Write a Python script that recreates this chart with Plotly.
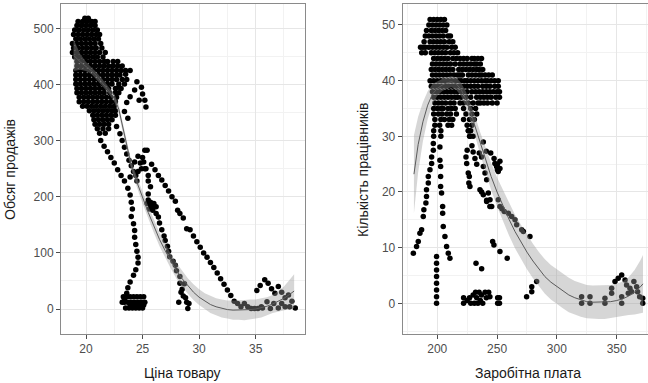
import plotly.graph_objects as go

# ---------------- Left panel: price vs sales ----------------
# dense cluster rows: (sales, [prices])
left_blob_rows = [
    (518, [19.9, 20.2]),
    (512, [19.3, 19.7, 20.1, 20.5, 20.8]),
    (505, [19.2, 19.6, 20.0, 20.4, 20.8]),
    (497, [19.0, 19.4, 19.8, 20.2, 20.6, 21.0]),
    (489, [18.9, 19.3, 19.7, 20.1, 20.5, 20.9, 21.2]),
    (481, [19.1, 19.5, 19.9, 20.3, 20.7, 21.1]),
    (473, [18.8, 19.2, 19.6, 20.0, 20.4, 20.8, 21.3]),
    (465, [18.9, 19.3, 19.7, 20.1, 20.5, 20.9, 21.4]),
    (457, [18.8, 19.2, 19.6, 20.0, 20.4, 20.8, 21.2, 21.7]),
    (449, [19.0, 19.4, 19.8, 20.2, 20.6, 21.0, 21.5]),
    (441, [19.2, 19.6, 20.0, 20.4, 20.8, 21.2, 21.6, 21.9, 22.4, 22.8]),
    (433, [19.2, 19.6, 20.0, 20.4, 20.8, 21.2, 21.6, 22.0, 22.4, 22.8, 23.2]),
    (425, [19.1, 19.5, 19.9, 20.3, 20.7, 21.1, 21.5, 21.9, 22.3, 22.7, 23.1, 23.5]),
    (417, [19.1, 19.5, 19.9, 20.3, 20.7, 21.1, 21.5, 21.9, 22.3, 22.7, 23.0]),
    (409, [19.1, 19.5, 19.9, 20.3, 20.7, 21.1, 21.5, 21.9, 22.3, 22.7, 23.2, 23.6]),
    (401, [19.1, 19.5, 19.9, 20.3, 20.7, 21.1, 21.5, 21.9, 22.3, 22.9, 23.4]),
    (393, [19.2, 19.6, 20.0, 20.4, 20.8, 21.2, 21.6, 22.0, 22.6, 23.1]),
    (385, [19.2, 19.6, 20.0, 20.4, 20.8, 21.2, 21.6, 22.1, 22.6, 22.9]),
    (377, [19.4, 19.8, 20.2, 20.6, 21.0, 21.4, 21.8, 22.2, 22.7]),
    (369, [19.4, 19.8, 20.2, 20.6, 21.0, 21.4, 21.8, 22.2, 22.6]),
    (361, [19.7, 20.1, 20.5, 20.9, 21.3, 21.7, 22.1, 22.5]),
    (353, [20.3, 20.7, 21.1, 21.5, 21.9, 22.3, 22.6]),
    (345, [20.6, 21.0, 21.4, 21.8, 22.2, 22.6]),
    (337, [20.7, 21.1, 21.5, 21.9, 22.3]),
    (329, [20.8, 21.2, 21.6, 22.0]),
    (321, [21.0, 21.5, 22.0]),
    (313, [21.2, 21.7]),
]

left_other_price = [
    # isolated right of cluster
    23.9, 24.3, 24.5, 24.9, 25.0, 25.2, 25.3, 24.7, 23.6, 23.4, 23.7, 22.9, 23.5, 23.9,
    # left descending chain
    21.3, 21.6, 21.9, 22.2, 22.5, 22.8, 23.1, 23.4, 23.7, 23.9, 24.0, 24.1, 24.0, 24.2,
    24.3, 24.3, 24.4, 24.5, 24.6, 24.6, 24.4, 24.2, 23.9, 23.7, 23.6, 23.4,
    # bottom cluster
    23.2, 23.3, 23.6, 23.9, 24.2, 24.5, 24.8, 25.1, 23.4, 23.7, 24.0, 24.3, 24.6, 24.9,
    25.2, 23.5, 23.8, 24.1, 24.4, 24.7, 25.0, 23.9, 24.2, 24.5, 24.8, 25.1,
    # middle cluster
    22.7, 23.0, 23.2, 23.4, 23.6, 23.8, 24.0, 24.2, 24.4, 24.6, 24.9, 25.2, 24.8, 25.0,
    25.2, 25.4, 24.6, 24.3, 23.9, 24.5,
    # middle chain down to 29
    25.1, 25.3, 25.5, 25.5, 25.7, 25.5, 25.5, 25.7, 25.9, 26.2, 26.4, 26.5, 26.7, 26.9,
    27.0, 27.2, 27.3, 27.4, 27.7, 27.9, 28.0, 28.3, 28.3, 28.5, 28.6, 28.9, 29.0, 28.4,
    28.2, 28.7, 28.8, 29.1,
    # small cluster near 25.7 / 180
    25.4, 25.7, 26.0, 25.6, 25.9, 26.2,
    # long chain to the right
    25.8, 26.1, 26.4, 26.7, 27.0, 27.3, 27.6, 27.9, 28.1, 28.3, 28.6, 28.9, 29.2, 29.5,
    29.8, 30.1, 30.4, 30.7, 31.0, 31.3, 31.6, 31.9, 32.2, 32.5, 32.8, 33.1, 33.4, 33.7,
    34.0, 34.3, 34.6, 34.9, 35.2, 35.5,
    # bump on the right
    35.1, 35.4, 35.8, 36.1, 36.4, 36.7, 37.0, 37.3, 37.6, 37.9, 38.2, 38.5, 37.6, 37.3,
    37.0, 36.6, 36.3, 36.0, 35.6, 38.0,
]
left_other_sales = [
    378, 390, 405, 395, 383, 372, 360, 372, 368, 352, 340, 395, 418, 425,
    300, 290, 280, 270, 260, 248, 238, 228, 215, 203, 190, 178, 165, 152,
    140, 128, 115, 103, 92, 82, 70, 60, 48, 38, 28, 18,
    12, 22, 22, 22, 22, 22, 22, 22, 12, 12, 12, 12, 12, 12,
    12, 2, 2, 2, 2, 2, 2, 7, 7, 7, 7, 7,
    325, 312, 300, 288, 276, 265, 255, 245, 238, 245, 250, 250, 260, 270,
    283, 283, 272, 262, 235, 228,
    262, 250, 238, 228, 218, 205, 194, 185, 176, 170, 164, 153, 141, 130,
    122, 112, 103, 93, 85, 78, 68, 58, 46, 35, 23, 12, 1, 30,
    12, 45, 20, 10,
    188, 190, 188, 178, 180, 182,
    258, 248, 238, 230, 220, 210, 200, 192, 176, 170, 162, 143, 141, 130,
    120, 110, 100, 92, 83, 74, 64, 54, 44, 34, 24, 14, 10, 4,
    10, 4, 1, 1, 1, 4,
    33, 42, 52, 46, 36, 28, 40, 30, 20, 25, 14, 2, 4, 10,
    2, 10, 1, 13, 2, 4,
]

left_fit_x = [18.9, 19.5, 20.0, 20.5, 21.0, 21.5, 22.0, 22.5, 22.9, 23.2, 23.6, 24.0, 24.5,
              25.0, 25.5, 26.0, 26.5, 27.0, 27.5, 28.0, 28.5, 29.0, 29.5, 30.0, 30.5, 31.0,
              31.5, 32.0, 32.5, 33.0, 33.5, 34.0, 34.5, 35.0, 35.5, 36.0, 36.5, 37.0, 37.5,
              38.0, 38.4]
left_fit_y = [452, 440, 432, 424, 414, 402, 390, 376, 356, 328, 290, 256, 226,
              198, 172, 148, 124, 104, 85, 68, 54, 41, 30, 21, 14, 8,
              4, 1, -1, -2, -2, -2, -1, 0, 2, 5, 9, 14, 19,
              26, 32]
left_fit_se = [28, 14, 8, 6, 6, 6, 6, 7, 8, 8, 8, 8, 9,
               10, 11, 12, 12, 13, 13, 14, 14, 14, 14, 14, 14, 15,
               15, 16, 16, 17, 17, 18, 18, 17, 17, 16, 16, 18, 21,
               26, 30]

# ---------------- Right panel: wage vs workers ----------------
right_blob_rows = [
    (51, [194, 197, 200, 203, 206]),
    (50, [193, 196, 199, 202, 205, 208]),
    (49, [191, 195, 198, 201, 204, 207]),
    (48, [190, 193, 196, 199, 202, 205, 209, 211]),
    (47, [189, 194, 197, 200, 203, 206, 210, 213]),
    (46, [186, 188, 190, 193, 196, 199, 202, 205, 208, 212, 215]),
    (45, [187, 190, 195, 198, 201, 204, 207, 211, 214, 217]),
    (44, [197, 200, 203, 206, 209, 213, 216, 219, 222, 225, 229, 231, 234, 237]),
    (43, [196, 199, 202, 205, 208, 211, 215, 219, 222, 225, 228, 231, 233, 236]),
    (42, [195, 198, 201, 204, 207, 210, 213, 218, 221, 224, 227, 230, 233, 235, 238]),
    (41, [196, 199, 202, 205, 208, 211, 214, 217, 219, 221, 226, 229, 232, 235, 237, 240,
          243, 246]),
    (40, [194, 197, 200, 203, 206, 209, 212, 215, 218, 220, 223, 225, 228, 231, 234, 237,
          240, 242, 245, 248, 251]),
    (39, [195, 198, 201, 204, 207, 210, 213, 216, 219, 222, 225, 228, 231, 234, 238, 241,
          244, 248, 251]),
    (38, [196, 199, 202, 205, 208, 211, 214, 217, 220, 222, 225, 229, 232, 235, 238, 241,
          244, 247, 250, 252]),
    (37, [197, 200, 203, 206, 209, 212, 215, 217, 220, 224, 228, 233, 236, 239, 242, 245,
          249, 252]),
    (36, [198, 201, 204, 207, 211, 214, 219, 222, 226, 230, 234, 236, 239, 242, 246, 250]),
    (35, [197, 200, 203, 205, 209, 212, 215, 222, 228, 232]),
    (34, [197, 201, 204, 208, 211, 216, 224, 229, 233]),
    (33, [198, 203, 206, 210, 213, 222, 227, 231]),
    (32, [198, 202, 209, 212, 225, 229]),
    (31, [197, 203, 226, 228]),
    (30, [197, 203, 227, 230]),
]

right_other_wage = [
    # far-left chain
    180.0, 182.7, 184.1, 185.5, 186.9, 188.3, 188.8, 190.5, 191.0, 191.0, 192.5, 192.5,
    193.9, 195.3, 195.3, 196.7, 196.7,
    # bottom column at 200
    199.4, 199.4, 199.4, 199.4, 199.4, 199.4, 199.4, 199.4,
    # column 202-210
    202.2, 202.2, 202.8, 202.8, 202.8, 203.6, 204.5, 204.5, 205.0, 206.4, 207.8, 209.2, 210.6,
    # middle chain
    224.0, 224.6, 225.9, 226.8, 226.4, 227.3, 225.0,
    # chain along the fit
    226.0, 227.5, 229.0, 230.0, 231.5, 233.0, 238.5, 241.0, 248.2, 249.6, 251.0,
    235.7, 238.5, 241.3, 244.0,
    # right chain
    235.1, 237.0, 238.5, 239.9, 241.3, 242.7, 244.1, 245.5, 237.1, 241.3,
    244.7, 247.5, 250.3, 250.3, 252.4, 252.4,
    # points along the fit
    251.0, 252.4, 254.1, 256.0, 259.4, 262.2, 265.0, 266.4, 270.6, 272.0, 277.5,
    # scattered
    246.3, 247.4, 252.4, 258.5, 232.4, 237.1,
    # bottom cluster
    222.0, 222.0, 225.0, 227.0, 228.0, 230.0, 231.0, 232.0, 233.0, 234.0, 235.0, 236.0,
    237.0, 238.0, 240.0, 241.0, 243.0, 244.0, 250.5, 250.5, 252.0, 252.0,
    # rising points
    274.7, 279.0, 279.0, 283.1,
    # bottom right
    320.7, 320.7, 327.7, 327.7, 340.2, 340.2, 345.8, 345.8, 348.6, 351.3, 354.2, 357.0,
    358.3, 361.1, 362.5, 364.4, 366.7, 367.5, 369.2, 371.8, 371.8, 354.2, 354.2, 359.7,
]
right_other_workers = [
    9.0, 10.2, 11.1, 12.6, 13.2, 15.6, 16.8, 18.0, 19.2, 20.4, 21.6, 22.8,
    24.0, 25.1, 26.3, 27.5, 28.7,
    0.0, 1.2, 2.4, 3.6, 4.8, 6.0, 7.2, 8.4,
    28.1, 25.7, 24.6, 22.8, 21.0, 19.8, 17.4, 16.2, 13.8, 12.0, 10.2, 9.0, 8.1,
    26.3, 25.1, 23.4, 22.8, 21.6, 21.0, 27.5,
    31.0, 30.0, 28.3, 27.2, 26.0, 25.0, 29.0, 27.3, 25.1, 24.6, 23.7,
    20.4, 19.5, 18.5, 17.4,
    27.0, 26.3, 24.6, 23.4, 22.2, 19.8, 18.6, 17.4, 20.0, 18.3,
    27.0, 26.0, 25.0, 24.0, 25.5, 24.2,
    18.6, 17.4, 17.0, 16.5, 16.2, 15.6, 15.0, 14.1, 13.2, 12.9, 12.0,
    11.1, 10.5, 9.3, 8.1, 7.2, 6.2,
    1.0, 0.0, 0.5, 1.0, 0.0, 1.5, 0.0, 2.0, 1.0, 0.0, 2.0, 0.5,
    1.5, 0.0, 2.0, 1.0, 2.0, 1.2, 1.0, 0.0, 1.0, 0.0,
    1.2, 2.1, 3.0, 3.9,
    1.2, 0.0, 1.2, 0.0, 0.9, 0.0, 1.8, 2.7, 3.9, 4.5, 5.1, 4.2,
    3.3, 2.7, 2.1, 3.9, 3.0, 2.1, 1.2, 0.9, 0.0, 1.2, 0.0, 1.8,
]

right_fit_x = [180.5, 184, 188, 192, 196, 200, 204, 208, 212, 216, 220, 224, 228, 232, 236,
               240, 245, 250, 255, 260, 265, 270, 275, 280, 285, 290, 295, 300, 305, 310,
               315, 320, 325, 330, 335, 340, 345, 350, 355, 360, 365, 370, 372]
right_fit_y = [23.2, 28.5, 32.6, 35.6, 37.6, 38.6, 39.2, 39.6, 39.8, 39.4, 38.4, 36.6, 34.2,
               31.6, 28.7, 26.0, 22.8, 20.0, 17.5, 15.1, 12.9, 11.0, 9.2, 7.6, 6.1, 4.8,
               3.8, 3.0, 2.2, 1.5, 1.0, 0.6, 0.3, 0.2, 0.2, 0.2, 0.3, 0.5, 0.8, 1.3, 2.0,
               3.0, 3.5]
right_fit_se = [7.0, 5.0, 3.5, 2.5, 1.8, 1.3, 1.1, 1.0, 1.0, 1.1, 1.2, 1.4, 1.6, 1.8, 2.0,
                2.2, 2.4, 2.6, 2.8, 2.9, 3.0, 3.1, 3.1, 3.1, 3.1, 3.1, 3.1, 3.1, 3.1, 3.1,
                3.0, 3.0, 3.0, 3.0, 3.0, 3.0, 3.0, 3.0, 3.1, 3.4, 4.0, 4.8, 5.2]

x_title_left = "Ціна товару"
y_title_left = "Обсяг продажів"
x_title_right = "Заробітна плата"
y_title_right = "Кількість працівників"

# ---------------- build ----------------
def flatten(rows):
    xs, ys = [], []
    for yv, xl in rows:
        for xv in xl:
            xs.append(xv)
            ys.append(yv)
    return xs, ys

lbx, lby = flatten(left_blob_rows)
left_price = lbx + left_other_price
left_sales = lby + left_other_sales

rbw, rby = flatten(right_blob_rows)
right_wage = rbw + right_other_wage
right_workers = rby + right_other_workers

fig = go.Figure()
pt = dict(color="black", size=5.5, line=dict(width=0))
band_col = "rgba(153,153,153,0.4)"
line_col = "#5a5a5a"

def add_panel(px, py, fx, fy, fse, xa, ya):
    fig.add_trace(go.Scatter(x=px, y=py, mode="markers", marker=pt, xaxis=xa, yaxis=ya,
                             showlegend=False, hoverinfo="skip"))
    up = [a + b for a, b in zip(fy, fse)]
    lo = [a - b for a, b in zip(fy, fse)]
    fig.add_trace(go.Scatter(x=fx + fx[::-1], y=up + lo[::-1], fill="toself",
                             fillcolor=band_col, line=dict(width=0), mode="lines",
                             xaxis=xa, yaxis=ya, showlegend=False, hoverinfo="skip"))
    fig.add_trace(go.Scatter(x=fx, y=fy, mode="lines", line=dict(color=line_col, width=1),
                             xaxis=xa, yaxis=ya, showlegend=False, hoverinfo="skip"))

add_panel(left_price, left_sales, left_fit_x, left_fit_y, left_fit_se, "x", "y")
add_panel(right_wage, right_workers, right_fit_x, right_fit_y, right_fit_se, "x2", "y2")

W, H = 648, 383
ydom = [(H - 334) / H, (H - 4) / H]
font_fam = "Liberation Sans, Arial, sans-serif"
tickfont = dict(family=font_fam, size=12, color="#4d4d4d")
grid = dict(showgrid=True, gridcolor="#e6e6e6", gridwidth=1.2, zeroline=False,
            ticks="outside", ticklen=4, tickcolor="#4d4d4d", tickwidth=1,
            tickfont=tickfont, showline=True, linecolor="#8a8a8a", linewidth=1)
minor_x = dict(showgrid=True, gridcolor="#f2f2f2", gridwidth=0.6)

fig.update_layout(
    width=W, height=H, margin=dict(l=0, r=0, t=0, b=0),
    paper_bgcolor="white", plot_bgcolor="white", showlegend=False,
    xaxis=dict(domain=[61 / W, 305 / W], range=[17.79, 39.36], tickvals=[20, 25, 30, 35],
               anchor="y", mirror=True,
               minor=dict(tickvals=[17.5, 22.5, 27.5, 32.5, 37.5], **minor_x), **grid),
    yaxis=dict(domain=ydom, range=[-44.5, 543.3], tickvals=[0, 100, 200, 300, 400, 500],
               anchor="x", mirror=True,
               minor=dict(tickvals=[-50, 50, 150, 250, 350, 450], **minor_x), **grid),
    xaxis2=dict(domain=[402.7 / W, 1.0], range=[171.1, 376.2], tickvals=[200, 250, 300, 350],
                anchor="y2", mirror=True,
                minor=dict(tickvals=[175, 225, 275, 325, 375], **minor_x), **grid),
    yaxis2=dict(domain=ydom, range=[-5.51, 53.77], tickvals=[0, 10, 20, 30, 40, 50],
                anchor="x2", mirror=False,
                minor=dict(tickvals=[-5, 5, 15, 25, 35, 45], **minor_x), **grid),
)

title_font = dict(family=font_fam, size=14, color="#1a1a1a")
fig.add_annotation(text=x_title_left, x=182.5 / W, y=1 - 373 / H, xref="paper", yref="paper",
                   showarrow=False, font=title_font, xanchor="center", yanchor="middle")
fig.add_annotation(text=x_title_right, x=528 / W, y=1 - 373 / H, xref="paper", yref="paper",
                   showarrow=False, font=title_font, xanchor="center", yanchor="middle")
fig.add_annotation(text=y_title_left, x=10 / W, y=1 - 170 / H, xref="paper", yref="paper",
                   showarrow=False, font=title_font, textangle=-90,
                   xanchor="center", yanchor="middle")
fig.add_annotation(text=y_title_right, x=363 / W, y=1 - 170 / H, xref="paper", yref="paper",
                   showarrow=False, font=title_font, textangle=-90,
                   xanchor="center", yanchor="middle")

fig.write_html("out.html", config={"displayModeBar": False},
               post_script="document.body.style.margin='0';document.body.style.overflow='hidden';")
